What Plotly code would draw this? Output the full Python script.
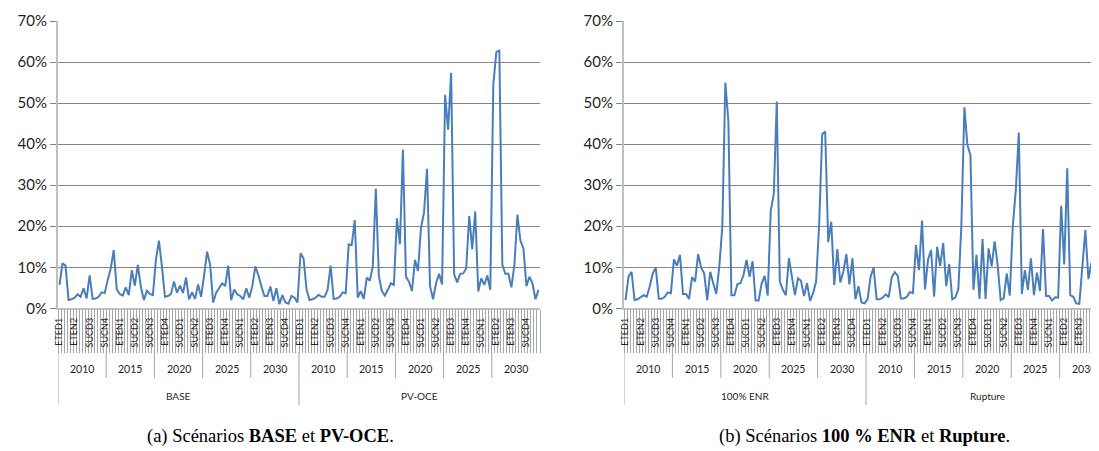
import plotly.graph_objects as go

# hierarchy of the category axis: scenario > year > period
periods = ['ETED1', 'ETED2', 'ETED3', 'ETED4', 'ETEN1', 'ETEN2', 'ETEN3', 'ETEN4',
           'SUCD1', 'SUCD2', 'SUCD3', 'SUCD4', 'SUCN1', 'SUCN2', 'SUCN3', 'SUCN4']
years = ['2010', '2015', '2020', '2025', '2030']
scen_a = ['BASE', 'PV-OCE']
scen_b = ['100% ENR', 'Rupture']

# values in %, 80 per scenario (16 periods x 5 years)
base = [5.7, 11.0, 10.4, 2.0, 2.2, 2.6, 3.4, 2.8, 4.9, 2.4, 8.0, 2.3, 2.4, 2.8, 3.9, 3.7,
        6.9, 9.7, 14.2, 4.6, 3.5, 3.1, 5.1, 3.2, 9.3, 5.5, 10.6, 5.3, 2.0, 4.3, 3.5, 3.2,
        11.8, 16.5, 10.2, 2.8, 3.0, 3.5, 6.5, 3.8, 5.5, 3.7, 7.5, 2.2, 3.9, 2.3, 5.8, 2.8,
        8.1, 13.8, 10.6, 1.4, 3.8, 5.1, 6.1, 5.4, 10.4, 2.0, 4.6, 3.4, 3.0, 2.2, 4.9, 2.6,
        5.4, 10.2, 8.1, 5.4, 3.0, 3.0, 5.3, 1.8, 4.9, 1.0, 3.2, 1.4, 1.1, 3.0, 2.6, 1.4]
pv_oce = [13.4, 12.2, 4.6, 2.0, 2.2, 2.6, 3.3, 2.8, 2.8, 4.5, 10.4, 2.3, 2.4, 2.8, 3.9, 3.7,
          15.6, 15.4, 21.5, 2.6, 4.2, 2.3, 7.5, 6.7, 10.2, 29.2, 7.9, 4.2, 3.1, 4.5, 6.1, 5.7,
          21.9, 15.6, 38.7, 7.7, 6.5, 4.2, 11.8, 9.1, 19.7, 23.3, 34.0, 5.4, 2.2, 6.1, 8.4, 5.8,
          52.0, 43.5, 57.4, 8.3, 6.3, 8.4, 8.5, 9.7, 22.5, 14.4, 23.6, 4.1, 7.3, 5.7, 8.0, 4.5,
          54.5, 62.4, 62.8, 10.6, 8.4, 8.4, 5.1, 10.6, 22.8, 16.5, 14.6, 5.4, 7.7, 6.1, 2.2, 4.5]
enr100 = [2.0, 7.7, 8.9, 2.0, 2.2, 2.6, 3.2, 2.8, 5.3, 8.5, 9.9, 2.3, 2.3, 2.8, 3.9, 3.7,
          11.9, 10.4, 13.0, 3.5, 3.5, 2.3, 7.6, 6.5, 13.2, 9.9, 8.5, 2.0, 8.9, 6.1, 3.5, 10.2,
          19.9, 55.0, 45.5, 3.2, 3.2, 5.9, 6.1, 8.1, 11.8, 7.7, 11.5, 1.9, 1.9, 6.1, 7.9, 3.1,
          23.8, 27.8, 50.4, 6.5, 4.5, 3.2, 12.2, 7.7, 3.2, 7.3, 6.7, 3.0, 6.1, 1.8, 3.7, 6.5,
          20.3, 42.4, 43.1, 16.1, 21.1, 5.7, 14.4, 6.3, 8.9, 13.2, 5.8, 12.2, 2.2, 5.4, 1.4, 1.2]
rupture = [2.2, 7.7, 9.9, 2.2, 2.2, 2.6, 3.4, 2.7, 7.6, 8.8, 7.9, 2.4, 2.4, 2.8, 4.0, 3.7,
           15.4, 9.3, 21.4, 4.6, 11.9, 14.2, 2.8, 15.0, 10.3, 15.9, 5.4, 10.8, 2.2, 2.6, 4.6, 19.9,
           49.0, 39.8, 37.4, 4.5, 13.0, 2.3, 16.9, 2.3, 14.6, 10.2, 16.3, 10.6, 2.0, 2.4, 8.5, 3.1,
           19.9, 28.8, 42.8, 3.5, 9.3, 4.5, 12.2, 3.2, 8.7, 4.2, 19.3, 3.0, 3.0, 1.9, 2.7, 2.6,
           25.0, 10.7, 34.1, 3.2, 2.8, 1.2, 1.1, 10.2, 19.1, 7.1, 11.1, 2.8, 6.7, 4.0, 3.0, 5.0]

# page has an 8px body margin, so the figure is drawn 8px smaller
OFF = 8
W, H = 1099 - OFF, 451 - OFF
FONT = 'Lato'
TXT = '#1f1f1f'
LINE = '#4a7ebb'
GRID = '#868686'
AXIS = '#bfbfbf'
TICKS = '#a6a6a6'


def px_x(x):
    return (x - OFF) / W


def px_y(y):
    return 1 - (y - OFF) / H


labels = periods * len(years) * 2
n = len(labels)
xs = list(range(n))

fig = go.Figure()
fig.add_trace(go.Scatter(x=xs, y=[v / 100 for v in base + pv_oce], mode='lines',
                         line=dict(color=LINE, width=2), xaxis='x', yaxis='y'))
fig.add_trace(go.Scatter(x=xs, y=[v / 100 for v in enr100 + rupture], mode='lines',
                         line=dict(color=LINE, width=2), xaxis='x2', yaxis='y2'))

y_dom = [px_y(308.3), px_y(21)]


def xaxis_cfg(left, right, rng, anchor):
    return dict(
        domain=[px_x(left), min(1, px_x(right))], range=rng, anchor=anchor,
        showgrid=False, zeroline=False,
        showline=True, linecolor=AXIS, linewidth=2,
        tickmode='array', tickvals=xs[::5], ticktext=labels[::5], tickangle=-90,
        ticks='', ticklabelstandoff=4,
        tickfont=dict(family=FONT, size=9, color=TXT),
        minor=dict(tickmode='array', tickvals=[i - 0.5 for i in range(n + 1)],
                   ticks='outside', ticklen=43, tickcolor=TICKS, tickwidth=1),
        automargin=False, fixedrange=True,
    )


def yaxis_cfg(anchor):
    return dict(
        domain=y_dom, range=[0, 0.7], dtick=0.1, tickformat='.0%',
        showgrid=True, gridcolor=GRID, gridwidth=1, zeroline=False,
        showline=True, linecolor=AXIS, linewidth=2,
        ticks='outside', ticklen=6, tickcolor=GRID,
        tickfont=dict(family=FONT, size=15, color=TXT),
        anchor=anchor, automargin=False,
    )


fig.update_layout(
    width=W, height=H, margin=dict(l=0, r=0, t=0, b=0),
    paper_bgcolor='white', plot_bgcolor='white', showlegend=False,
    xaxis=xaxis_cfg(58, 540, [-0.5, n - 0.5], 'y'),
    yaxis=yaxis_cfg('x'),
    xaxis2=xaxis_cfg(624, 1099, [-0.5, 156.5], 'y2'),
    yaxis2=yaxis_cfg('x2'),
)

# year / scenario rows of the category axis
y_row_top = px_y(352)
y_year_bot = px_y(378)
y_scen_bot = px_y(405)
per_year = len(periods)
per_scen = per_year * len(years)

for xref, scen in (('x', scen_a), ('x2', scen_b)):
    for s, name in enumerate(scen):
        x0 = s * per_scen - 0.5
        fig.add_shape(type='line', xref=xref, yref='paper', x0=x0, x1=x0,
                      y0=y_row_top, y1=y_scen_bot, line=dict(color=TICKS, width=1))
        fig.add_annotation(xref=xref, yref='paper', x=s * per_scen + (per_scen - 1) / 2,
                           y=px_y(396), text=name, showarrow=False,
                           xanchor='center', yanchor='middle',
                           font=dict(family=FONT, size=10, color=TXT))
        for k, yr in enumerate(years):
            if k > 0:
                xb = s * per_scen + k * per_year - 0.5
                fig.add_shape(type='line', xref=xref, yref='paper', x0=xb, x1=xb,
                              y0=y_row_top, y1=y_year_bot, line=dict(color=TICKS, width=1))
            fig.add_annotation(xref=xref, yref='paper',
                               x=s * per_scen + k * per_year + (per_year - 1) / 2,
                               y=px_y(369), text=yr, showarrow=False,
                               xanchor='center', yanchor='middle',
                               font=dict(family=FONT, size=10.5, color=TXT))

# sub-figure captions
cap_font = dict(family='Liberation Serif', size=18.5, color='black')
fig.add_annotation(xref='paper', yref='paper', x=px_x(270), y=px_y(436),
                   xanchor='center', yanchor='middle',
                   text='(a) Scénarios <b>BASE</b> et <b>PV-OCE</b>.',
                   showarrow=False, font=cap_font)
fig.add_annotation(xref='paper', yref='paper', x=px_x(864), y=px_y(436),
                   xanchor='center', yanchor='middle',
                   text='(b) Scénarios <b>100 % ENR</b> et <b>Rupture</b>.',
                   showarrow=False, font=cap_font)

fig.write_html('out.html')
